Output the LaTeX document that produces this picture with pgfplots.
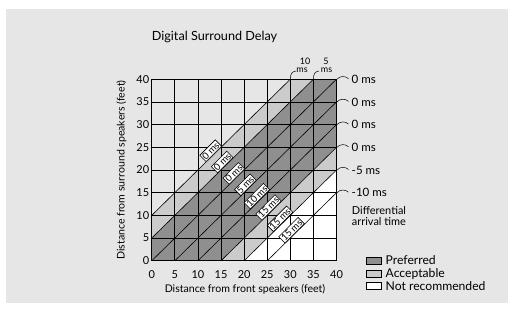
\documentclass[border=0pt]{standalone}
\usepackage{pgfplots}
\pgfplotsset{compat=1.18}
\usepackage{fontspec}
\setmainfont{Lato}
\definecolor{panel}{HTML}{E6E6E6}
\definecolor{prefc}{HTML}{8F8F8F}
\definecolor{accc}{HTML}{CBCBCB}
\begin{document}
\begin{tikzpicture}[x=1bp,y=1bp]
\useasboundingbox (0,0) rectangle (508,309);
\fill[white] (0,0) rectangle (508,309);
\fill[panel] (6,6) rectangle (508,300);
\begin{axis}[at={(151.7bp,48.2bp)}, anchor=south west, scale only axis,
  width=184.8bp, height=181.6bp,
  xmin=0, xmax=40, ymin=0, ymax=40,
  xtick={0,5,...,40}, ytick={0,5,...,40},
  grid=major, major grid style={black, line width=0.8pt},
  axis line style={black, line width=0.9pt},
  major tick length=0pt, axis on top,
  /pgf/number format/assume math mode=true,
  tick label style={font=\fontsize{11}{13}\selectfont},
  xticklabel style={yshift=-6bp},
  yticklabel style={xshift=1bp}]
% shaded regions (bands of y - x)
\addplot[fill=accc, draw=none] coordinates {(0,5) (0,10) (30,40) (35,40)} -- cycle;
\addplot[fill=prefc, draw=none] coordinates {(0,5) (0,0) (15,0) (40,25) (40,40) (35,40)} -- cycle;
\addplot[fill=accc, draw=none] coordinates {(15,0) (20,0) (40,20) (40,25)} -- cycle;
\addplot[fill=white, draw=none] coordinates {(20,0) (40,0) (40,20)} -- cycle;
% diagonal lines
\addplot[black, line width=0.6pt] coordinates {(0,10) (30,40)};
\addplot[black, line width=0.6pt] coordinates {(0,5) (35,40)};
\addplot[black, line width=0.6pt] coordinates {(0,0) (40,40)};
\addplot[black, line width=0.6pt] coordinates {(5,0) (40,35)};
\addplot[black, line width=0.6pt] coordinates {(10,0) (40,30)};
\addplot[black, line width=0.6pt] coordinates {(15,0) (40,25)};
\addplot[black, line width=0.6pt] coordinates {(20,0) (40,20)};
\addplot[black, line width=0.6pt] coordinates {(25,0) (40,15)};
\coordinate (D1) at (axis cs:13.5,23.5);
\coordinate (D2) at (axis cs:16,21);
\coordinate (D3) at (axis cs:18.5,18.5);
\coordinate (D4) at (axis cs:21,16);
\coordinate (D5) at (axis cs:23.5,13.5);
\coordinate (D6) at (axis cs:26,11);
\coordinate (D7) at (axis cs:28.5,8.5);
\coordinate (D8) at (axis cs:31,6);
\end{axis}
% diagonal delay labels
\begin{scope}[every node/.style={rotate=45, anchor=south, fill=white, draw=black, line width=0.6pt, inner sep=1pt, font=\fontsize{9.5}{10}\selectfont}]
\node at (D1) {0 ms};
\node at (D2) {0 ms};
\node at (D3) {0 ms};
\node at (D4) {5 ms};
\node at (D5) {10 ms};
\node at (D6) {15 ms};
\node at (D7) {15 ms};
\node at (D8) {15 ms};
\end{scope}
% title and axis labels
\node[font=\fontsize{12.7}{14}\selectfont] at (214.5,272) {Digital Surround Delay};
\node[font=\fontsize{10.6}{12}\selectfont] at (245,20) {Distance from front speakers (feet)};
\node[font=\fontsize{10.6}{12}\selectfont, rotate=90] at (121.5,139) {Distance from surround speakers (feet)};
% right-side arrival labels
\foreach \Y/\t in {79.2/0 ms, 101.9/0 ms, 124.6/0 ms, 147.3/0 ms, 170/-5 ms, 192.7/-10 ms}{
  \pgfmathsetmacro{\yy}{309-\Y}
  \draw[black, line width=0.5pt] (337,\yy) .. controls (340,\yy+3.5) and (345.5,\yy+3.5) .. (348.5,\yy+0.5);
  \node[anchor=west, inner sep=0pt, font=\fontsize{11.6}{13}\selectfont] at (351.5,\yy) {\t};
}
% top arrival labels
\draw[black, line width=0.5pt] (290.3,230) .. controls (290.3,235) and (292,237.5) .. (296,238);
\draw[black, line width=0.5pt] (313.4,230) .. controls (313.4,235) and (315,237.5) .. (319,238);
\node[font=\fontsize{9}{10}\selectfont, inner sep=0pt] at (305,247.3) {10};
\node[font=\fontsize{9}{10}\selectfont, inner sep=0pt] at (302,238.5) {ms};
\node[font=\fontsize{9}{10}\selectfont, inner sep=0pt] at (326,247.3) {5};
\node[font=\fontsize{9}{10}\selectfont, inner sep=0pt] at (326.5,238.5) {ms};
% Differential arrival time
\node[anchor=west, inner sep=0pt, font=\fontsize{11}{13}\selectfont] at (351.7,98.3) {Differential};
\node[anchor=west, inner sep=0pt, font=\fontsize{11}{13}\selectfont] at (351.7,87.3) {arrival time};
% legend
\draw[black, line width=0.5pt, fill=prefc] (366,45) rectangle (381.7,51.7);
\draw[black, line width=0.5pt, fill=accc] (366,31.7) rectangle (381.7,38.3);
\draw[black, line width=0.5pt, fill=white] (366,19.7) rectangle (381.7,26.3);
\node[anchor=west, inner sep=0pt, font=\fontsize{12.2}{14}\selectfont] at (385.5,48.5) {Preferred};
\node[anchor=west, inner sep=0pt, font=\fontsize{12.2}{14}\selectfont] at (385.5,35) {Acceptable};
\node[anchor=west, inner sep=0pt, font=\fontsize{12.2}{14}\selectfont] at (385.5,23) {Not recommended};
\end{tikzpicture}
\end{document}
